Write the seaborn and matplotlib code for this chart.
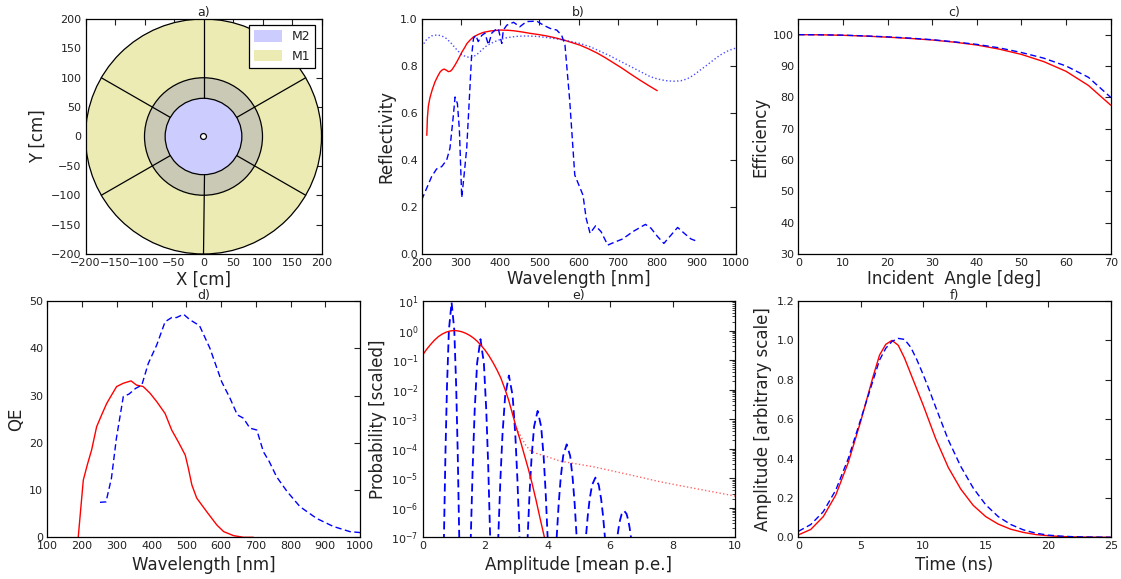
import numpy as np
import matplotlib
matplotlib.use("Agg")
import matplotlib.pyplot as plt
import seaborn as sns
from matplotlib.patches import Circle, Patch

# ---------------- data ----------------
# a) mirror layout [cm]
m1_radius = 200
ring_radius = 100
m2_radius = 65
hole_radius = 5
spoke_angles_deg = [30, 90, 150, 210, 270, 330]
spoke_inner, spoke_outer = 65, 200
legend_labels = ["M2", "M1"]

# b) reflectivity
refl_red_wl = [213, 214.5, 217, 221, 227, 234, 241, 247, 252, 257, 263, 268, 273, 277, 283, 289,
               296, 302, 309, 315, 323, 332, 345, 357, 375, 400, 420, 434, 455, 476, 497, 518,
               540, 561, 582, 603, 625, 647, 668, 690, 711, 733, 755, 777, 800]
refl_red = [0.505, 0.58, 0.63, 0.665, 0.70, 0.733, 0.757, 0.775, 0.783, 0.787, 0.782, 0.776, 0.778,
            0.784, 0.799, 0.816, 0.838, 0.858, 0.877, 0.895, 0.91, 0.924, 0.935, 0.943, 0.949,
            0.953, 0.952, 0.95, 0.945, 0.939, 0.934, 0.928, 0.92, 0.911, 0.90, 0.889, 0.873,
            0.855, 0.835, 0.812, 0.79, 0.765, 0.741, 0.718, 0.695]
refl_dot_wl = [200, 213, 225, 238, 250, 263, 275, 288, 300, 313, 327, 340, 353, 366, 380, 395, 416,
               440, 465, 493, 520, 550, 578, 603, 629, 654, 680, 705, 731, 756, 782, 800, 820, 841,
               860, 876, 892, 910, 926, 943, 960, 977, 992, 1000]
refl_dot = [0.882, 0.914, 0.928, 0.932, 0.929, 0.917, 0.897, 0.872, 0.851, 0.839, 0.836, 0.848,
            0.868, 0.887, 0.899, 0.91, 0.92, 0.926, 0.928, 0.926, 0.921, 0.914, 0.905, 0.896,
            0.882, 0.863, 0.843, 0.821, 0.799, 0.777, 0.755, 0.745, 0.738, 0.735, 0.737, 0.745,
            0.76, 0.783, 0.803, 0.825, 0.846, 0.862, 0.872, 0.876]
refl_dash_wl = [200, 202.5, 212.7, 225.5, 238, 251, 263.7, 272, 280.7, 285, 291, 296, 302, 308,
                314.7, 321.5, 327, 332, 338, 344, 353, 361, 370, 378.5, 387, 395, 404, 408, 417,
                434, 450, 467, 493, 510, 527, 544, 556.7, 565, 577, 590, 602, 611, 619, 629, 643,
                657, 674, 691, 712, 737.8, 770, 784, 801, 817, 835, 852, 869, 886, 897]
refl_dash = [0.23, 0.24, 0.28, 0.33, 0.362, 0.372, 0.40, 0.45, 0.59, 0.668, 0.64, 0.53, 0.24,
             0.336, 0.45, 0.664, 0.84, 0.918, 0.93, 0.904, 0.93, 0.94, 0.89, 0.94, 0.953, 0.96,
             0.896, 0.953, 0.974, 0.986, 0.967, 0.989, 0.991, 0.974, 0.96, 0.953, 0.93, 0.89,
             0.655, 0.336, 0.287, 0.25, 0.152, 0.088, 0.12, 0.095, 0.038, 0.05, 0.064, 0.095,
             0.126, 0.11, 0.074, 0.045, 0.08, 0.113, 0.088, 0.064, 0.057]

# c) efficiency vs incident angle
angle_deg = [0, 5, 10, 15, 20, 25, 30, 35, 40, 45, 50, 55, 60, 65, 70]
eff_red = [100, 99.95, 99.8, 99.55, 99.2, 98.8, 98.3, 97.6, 96.7, 95.4, 93.7, 91.4, 88.3, 83.8, 77.5]
eff_blue = [100, 99.95, 99.85, 99.6, 99.3, 98.9, 98.4, 97.7, 96.9, 95.8, 94.3, 92.5, 90.0, 86.4, 80.0]

# d) quantum efficiency
qe_red_wl = [189, 203.6, 215, 227.6, 242, 256.4, 270.8, 285, 299.6, 318.8, 341, 357, 376, 395.5,
             415, 439, 458, 477, 497, 506, 516, 530, 559, 588, 607.6, 636, 665, 693]
qe_red = [0, 12.1, 15.3, 18.5, 23.4, 25.9, 28.3, 30.1, 31.9, 32.6, 33.1, 32.2, 31.9, 30.5, 28.7,
          26.2, 22.7, 20.2, 17.4, 14.6, 11.1, 8.3, 5.4, 2.6, 1.2, 0.35, 0.0, 0.0]
qe_blue_wl = [251.6, 269, 284.6, 299, 318.8, 335, 354, 372, 390.7, 415, 439, 458, 472, 492, 511,
              538, 568, 602, 626, 647, 664.6, 683, 703, 722, 739, 760, 790, 827, 875, 923, 971, 1000]
qe_blue = [7.4, 7.5, 12.5, 21.0, 29.8, 30.3, 31.5, 32.2, 36.8, 40.7, 45.6, 46.5, 46.5, 47.2, 46.0,
           44.8, 40.0, 32.9, 29.4, 25.9, 25.2, 23.1, 22.7, 18.1, 16.0, 12.8, 9.7, 6.5, 4.0, 2.3,
           1.2, 1.0]

# e) single p.e. amplitude spectrum
amp_red_x = [0, 0.125, 0.25, 0.375, 0.5, 0.625, 0.75, 0.875, 1.0, 1.125, 1.25, 1.375, 1.5, 1.625,
             1.75, 1.875, 2.0, 2.125, 2.25, 2.375, 2.5, 2.625, 2.75, 2.875, 3.0, 3.125, 3.25,
             3.375, 3.5, 3.625, 3.75, 3.88, 4.0]
amp_red = [0.15, 0.23, 0.335, 0.47, 0.62, 0.76, 0.88, 0.965, 1.0, 0.975, 0.91, 0.81, 0.69, 0.56,
           0.43, 0.31, 0.215, 0.138, 0.083, 0.047, 0.025, 0.011, 4.5e-3, 1.5e-3, 5.0e-4, 1.9e-4,
           6.4e-5, 2.2e-5, 6.8e-6, 1.9e-6, 4.8e-7, 1.2e-7, 3.4e-8]
amp_tail_x = [3.0, 3.15, 3.3, 3.45, 3.65, 4.0, 4.4, 5.46, 6.53, 7.6, 8.67, 10.0]
amp_tail = [5.0e-4, 2.5e-4, 1.3e-4, 8.5e-5, 6.9e-5, 5.3e-5, 3.8e-5, 2.45e-5, 1.38e-5, 7.6e-6,
            4.6e-6, 2.5e-6]
amp_blue_x = [0.643, 0.680, 0.729, 0.778, 0.839, 0.925, 1.011, 1.072, 1.121, 1.170, 1.207,
              1.494, 1.540, 1.602, 1.664, 1.742, 1.850, 1.959, 2.036, 2.098, 2.160, 2.207,
              2.369, 2.420, 2.488, 2.556, 2.641, 2.760, 2.879, 2.964, 3.032, 3.100, 3.151,
              3.312, 3.360, 3.424, 3.488, 3.568, 3.680, 3.792, 3.872, 3.936, 4.000, 4.048,
              4.242, 4.290, 4.354, 4.418, 4.498, 4.610, 4.722, 4.802, 4.866, 4.930, 4.978,
              5.179, 5.225, 5.286, 5.347, 5.423, 5.530, 5.637, 5.713, 5.774, 5.835, 5.881,
              6.197, 6.230, 6.274, 6.318, 6.373, 6.450, 6.527, 6.582, 6.626, 6.670, 6.703]
amp_blue = [2.6e-10, 1e-7, 7.6e-5, 1.3e-2, 1.05, 9.0, 1.05, 1.3e-2, 7.6e-5, 1e-7, 2.6e-10,
            6.9e-10, 1e-7, 2.6e-5, 1.95e-3, 7.8e-2, 0.51, 7.8e-2, 1.95e-3, 2.6e-5, 1e-7, 6.9e-10,
            1.7e-9, 1e-7, 9.3e-6, 3.2e-4, 6.3e-3, 0.03, 6.3e-3, 3.2e-4, 9.3e-6, 1e-7, 1.7e-9,
            4.2e-9, 1e-7, 3.5e-6, 5.5e-5, 5.7e-4, 1.9e-3, 5.7e-4, 5.5e-5, 3.5e-6, 1e-7, 4.2e-9,
            9.8e-9, 1e-7, 1.35e-6, 1.0e-5, 5.7e-5, 1.4e-4, 5.7e-5, 1.0e-5, 1.35e-6, 1e-7, 9.8e-9,
            2.2e-8, 1e-7, 5.4e-7, 2.0e-6, 5.9e-6, 1.05e-5, 5.9e-6, 2.0e-6, 5.4e-7, 1e-7, 2.2e-8,
            5.1e-8, 1e-7, 2.1e-7, 3.8e-7, 6.2e-7, 7.9e-7, 6.2e-7, 3.8e-7, 2.1e-7, 1e-7, 5.1e-8]

# f) pulse shape
time_ns = [0, 1, 2, 3, 4, 5, 6, 6.5, 7, 7.5, 8, 8.5, 9, 9.5, 10, 10.5, 11, 12, 13, 14, 15, 16,
           17, 18, 19, 20, 21, 22, 23, 25]
pulse_red = [0.012, 0.04, 0.105, 0.215, 0.38, 0.59, 0.82, 0.925, 0.98, 1.0, 0.975, 0.91, 0.83,
             0.75, 0.67, 0.585, 0.50, 0.355, 0.245, 0.162, 0.105, 0.067, 0.041, 0.025, 0.014,
             0.008, 0.004, 0.002, 0.001, 0.0]
pulse_blue = [0.03, 0.065, 0.13, 0.24, 0.40, 0.60, 0.80, 0.90, 0.96, 0.995, 1.01, 1.005, 0.965,
              0.90, 0.825, 0.745, 0.66, 0.495, 0.36, 0.25, 0.165, 0.105, 0.065, 0.038, 0.021,
              0.011, 0.006, 0.003, 0.0015, 0.0]

# ---------------- style ----------------
sns.set_theme(style="white")
plt.rcParams.update({
    "font.family": ["DejaVu Sans"],
    "font.size": 8,
    "axes.labelsize": 12,
    "axes.titlesize": 9,
    "axes.titlepad": 2.5,
    "axes.labelpad": 3,
    "xtick.labelsize": 8,
    "ytick.labelsize": 8,
    "axes.edgecolor": "black",
    "axes.linewidth": 0.9,
    "text.color": "#222222",
    "axes.labelcolor": "#222222",
    "xtick.color": "#222222",
    "ytick.color": "#222222",
})

W, H = 1121, 579
fig = plt.figure(figsize=(W / 100, H / 100), dpi=100)


def box(l, r, t, b):
    return [l / W, (H - b) / H, (r - l) / W, (b - t) / H]


def style_ticks(ax):
    ax.tick_params(which="both", direction="in", top=True, right=True, pad=3,
                   colors="#222222")
    ax.tick_params(which="major", length=4, width=0.8)
    ax.tick_params(which="minor", length=2, width=0.6)
    for s in ax.spines.values():
        s.set_color("black")
        s.set_linewidth(0.9)


DASH = (0, (4.5, 2.5))
TOP_XPAD = 1.5
BOTTOM_TPAD = 1.5

# ---- a) ----
ax = fig.add_axes(box(85.5, 321.5, 19, 254))
c_m1, c_ring, c_m2 = "#ebebb3", "#c9c9b5", "#ccccff"
ax.add_patch(Circle((0, 0), m1_radius, facecolor=c_m1, edgecolor="black", lw=0.9, zorder=1))
ax.add_patch(Circle((0, 0), ring_radius, facecolor=c_ring, edgecolor="black", lw=0.9, zorder=2))
ax.add_patch(Circle((0, 0), m2_radius, facecolor=c_m2, edgecolor="black", lw=0.9, zorder=3))
ax.add_patch(Circle((0, 0), hole_radius, facecolor="white", edgecolor="black", lw=0.9, zorder=5))
for a in spoke_angles_deg:
    t = np.deg2rad(a)
    ax.plot([spoke_inner * np.cos(t), spoke_outer * np.cos(t)],
            [spoke_inner * np.sin(t), spoke_outer * np.sin(t)],
            color="black", lw=0.9, zorder=4)
ax.set_xlim(-200, 200)
ax.set_ylim(-200, 200)
ax.set_xticks(np.arange(-200, 201, 50))
ax.set_yticks(np.arange(-200, 201, 50))
ax.set_xlabel("X [cm]", labelpad=TOP_XPAD)
ax.set_ylabel("Y [cm]")
ax.set_title("a)")
handles = [Patch(facecolor=c_m2, edgecolor="none"), Patch(facecolor=c_m1, edgecolor="none")]
leg = ax.legend(handles, legend_labels, loc="upper right", fontsize=9, fancybox=False,
                framealpha=1, edgecolor="black", borderaxespad=0.5, handlelength=2.2,
                handleheight=1.0)
leg.get_frame().set_linewidth(0.9)
style_ticks(ax)

# ---- b) ----
ax = fig.add_axes(box(421.7, 735.7, 19, 254))
sns.lineplot(x=refl_red_wl, y=refl_red, ax=ax, color="red", lw=1.0, estimator=None, sort=False)
sns.lineplot(x=refl_dot_wl, y=refl_dot, ax=ax, color="blue", lw=1.0, alpha=0.7,
             linestyle=":", estimator=None, sort=False)
sns.lineplot(x=refl_dash_wl, y=refl_dash, ax=ax, color="blue", lw=1.0, linestyle=DASH,
             estimator=None, sort=False)
ax.set_xlim(200, 1000)
ax.set_ylim(0, 1.0)
ax.set_xticks(np.arange(200, 1001, 100))
ax.set_yticks(np.arange(0, 1.01, 0.2))
ax.yaxis.set_major_formatter(matplotlib.ticker.FormatStrFormatter("%.1f"))
ax.set_xlabel("Wavelength [nm]", labelpad=TOP_XPAD)
ax.set_ylabel("Reflectivity")
ax.set_title("b)")
style_ticks(ax)

# ---- c) ----
ax = fig.add_axes(box(798.3, 1110.7, 19, 254))
sns.lineplot(x=angle_deg, y=eff_red, ax=ax, color="red", lw=1.0, estimator=None, sort=False)
sns.lineplot(x=angle_deg, y=eff_blue, ax=ax, color="blue", lw=1.0, linestyle=DASH,
             estimator=None, sort=False)
ax.set_xlim(0, 70)
ax.set_ylim(30, 105)
ax.set_xticks(np.arange(0, 71, 10))
ax.set_yticks(np.arange(30, 101, 10))
ax.set_xlabel("Incident  Angle [deg]", labelpad=TOP_XPAD)
ax.set_ylabel("Efficiency")
ax.set_title("c)")
style_ticks(ax)

# ---- d) ----
ax = fig.add_axes(box(47.3, 360, 301, 537.3))
sns.lineplot(x=qe_red_wl, y=qe_red, ax=ax, color="red", lw=1.0, estimator=None, sort=False)
sns.lineplot(x=qe_blue_wl, y=qe_blue, ax=ax, color="blue", lw=1.0, linestyle=DASH,
             estimator=None, sort=False)
ax.set_xlim(100, 1000)
ax.set_ylim(0, 50)
ax.set_xticks(np.arange(100, 1001, 100))
ax.set_yticks(np.arange(0, 51, 10))
ax.set_xlabel("Wavelength [nm]")
ax.set_ylabel("QE")
ax.set_title("d)", pad=BOTTOM_TPAD)
style_ticks(ax)

# ---- e) ----
ax = fig.add_axes(box(422.7, 735, 301, 537.3))
sns.lineplot(x=amp_blue_x, y=amp_blue, ax=ax, color="blue", lw=1.3, linestyle=DASH,
             estimator=None, sort=False)
sns.lineplot(x=amp_tail_x, y=amp_tail, ax=ax, color="red", lw=1.0, alpha=0.6, linestyle=":",
             estimator=None, sort=False)
sns.lineplot(x=amp_red_x, y=amp_red, ax=ax, color="red", lw=1.0, estimator=None, sort=False)
ax.set_yscale("log")
ax.set_xlim(0, 10)
ax.set_ylim(1e-7, 1e1)
ax.set_xticks(np.arange(0, 11, 2))
ax.yaxis.set_major_locator(matplotlib.ticker.LogLocator(base=10, numticks=20))
ax.yaxis.set_minor_locator(matplotlib.ticker.LogLocator(base=10, subs=np.arange(2, 10), numticks=100))
ax.yaxis.set_minor_formatter(matplotlib.ticker.NullFormatter())
ax.set_xlabel("Amplitude [mean p.e.]")
ax.set_ylabel("Probability [scaled]")
ax.set_title("e)", pad=BOTTOM_TPAD)
style_ticks(ax)

# ---- f) ----
ax = fig.add_axes(box(798.3, 1110.7, 301, 537.3))
sns.lineplot(x=time_ns, y=pulse_red, ax=ax, color="red", lw=1.0, estimator=None, sort=False)
sns.lineplot(x=time_ns, y=pulse_blue, ax=ax, color="blue", lw=1.0, linestyle=DASH,
             estimator=None, sort=False)
ax.set_xlim(0, 25)
ax.set_ylim(0, 1.2)
ax.set_xticks(np.arange(0, 26, 5))
ax.set_yticks(np.arange(0, 1.21, 0.2))
ax.yaxis.set_major_formatter(matplotlib.ticker.FormatStrFormatter("%.1f"))
ax.set_xlabel("Time (ns)")
ax.set_ylabel("Amplitude [arbitrary scale]")
ax.set_title("f)", pad=BOTTOM_TPAD)
style_ticks(ax)

fig.savefig("out.png", dpi=100)
